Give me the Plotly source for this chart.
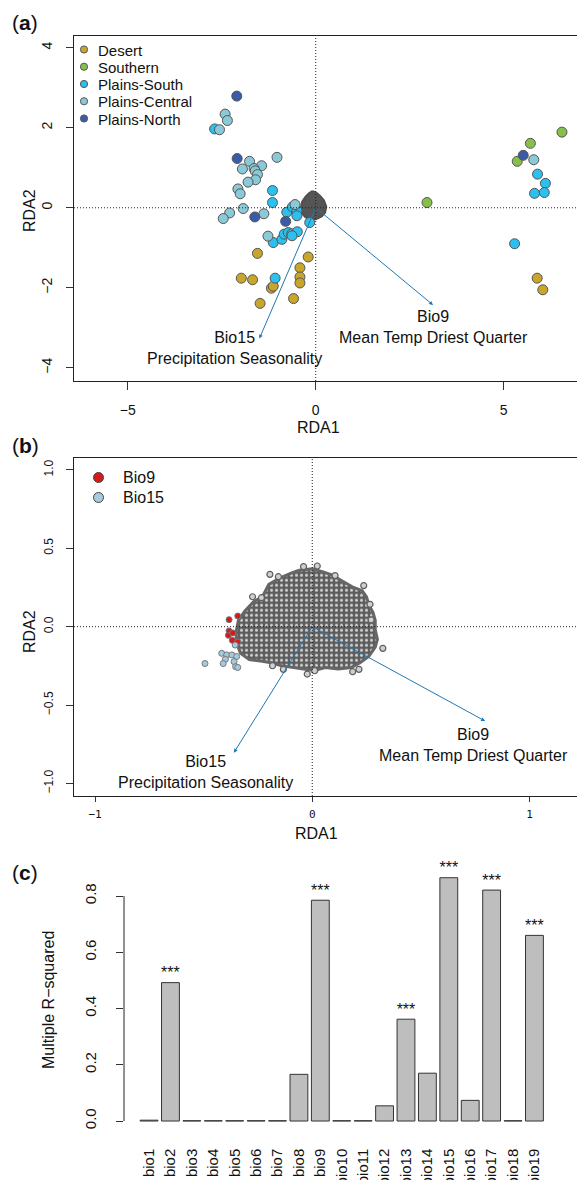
import plotly.graph_objects as go

W, H = 577, 1180
FONT = "Liberation Sans, Arial, sans-serif"

# ---------------- Panel (a): RDA individuals ----------------
desert_x = [-1.55, -0.20, -0.42, -0.42, -0.42, -1.98, -1.68, -1.18, -1.13, -1.48, -0.59, 5.89, 6.04]
desert_y = [-1.14, -1.23, -1.50, -1.73, -1.88, -1.76, -1.80, -2.01, -1.96, -2.39, -2.27, -1.76, -2.05]

southern_x = [6.55, 5.71, 5.36, 2.96]
southern_y = [1.89, 1.61, 1.16, 0.13]

psouth_x = [-2.69, -1.15, -1.15, -0.77, -0.62, -0.50, -0.50, -0.16, -1.13, -0.90, -0.84, -0.73,
            -0.64, -0.49, -0.63, -1.08, 5.90, 6.11, 5.82, 6.08, 5.29]
psouth_y = [1.97, 0.43, 0.13, -0.11, 0.02, -0.07, -0.20, -0.37, -0.87, -0.79, -0.66, -0.62,
            -0.65, -0.60, -0.70, -1.76, 0.84, 0.61, 0.36, 0.38, -0.90]

pcentral_x = [-2.41, -2.35, -2.56, -1.76, -1.03, -1.95, -1.44, -1.64, -1.61, -1.55, -1.60, -1.80,
              -2.07, -2.01, -1.93, -2.29, -2.46, -1.38, -1.27, -0.55, 5.80]
pcentral_y = [2.34, 2.18, 1.95, 1.16, 1.26, 0.97, 1.05, 0.98, 0.92, 0.83, 0.70, 0.64,
              0.47, 0.35, -0.02, -0.13, -0.27, -0.15, -0.71, 0.08, 1.20]

pnorth_x = [-2.10, -2.09, -1.62, -0.80, 5.52]
pnorth_y = [2.79, 1.23, -0.23, -0.34, 1.31]

# outline of the dense SNP blob in panel (a)
blob_a_x = [-0.09, 0.04, 0.13, 0.22, 0.28, 0.25, 0.16, 0.00, -0.13, -0.27, -0.37, -0.40, -0.36, -0.27, -0.18, -0.09]
blob_a_y = [0.42, 0.36, 0.28, 0.18, 0.03, -0.12, -0.22, -0.29, -0.29, -0.24, -0.14, -0.02, 0.15, 0.28, 0.36, 0.42]

# biplot arrows (panel a)
arrow_a = {"Bio9": (3.12, -2.43), "Bio15": (-1.50, -3.27)}
label_a = {"Bio9": (3.12, -2.98, "Bio9<br>Mean Temp Driest Quarter"),
           "Bio15": (-2.17, -3.51, "Bio15<br>Precipitation Seasonality")}

# ---------------- Panel (b): SNP loadings ----------------
cloud_b_x = [-0.06, 0.00, 0.05, 0.09, 0.14, 0.19, 0.23, 0.25, 0.26, 0.28, 0.29, 0.29, 0.30, 0.29, 0.26,
             0.22, 0.18, 0.12, 0.06, 0.01, -0.04, -0.09, -0.14, -0.19, -0.23, -0.29, -0.33, -0.35,
             -0.35, -0.34, -0.31, -0.27, -0.23, -0.20, -0.15, -0.10, -0.06]
cloud_b_y = [0.36, 0.37, 0.35, 0.33, 0.29, 0.25, 0.23, 0.19, 0.14, 0.09, 0.04, -0.02, -0.08, -0.13, -0.19,
             -0.23, -0.26, -0.27, -0.26, -0.28, -0.27, -0.26, -0.25, -0.23, -0.22, -0.21, -0.17, -0.10,
             -0.03, 0.04, 0.10, 0.16, 0.19, 0.27, 0.31, 0.34, 0.36]
edge_snp_x = [-0.195, -0.156, -0.040, 0.023, 0.105, 0.237, 0.266, 0.325, -0.023, 0.011, 0.186, 0.215,
              -0.183, -0.133, -0.275, -0.234, 0.271]
edge_snp_y = [0.334, 0.319, 0.383, 0.387, 0.326, 0.262, 0.143, -0.138, -0.302, -0.281, -0.287, -0.272,
              -0.249, -0.272, 0.191, 0.185, 0.043]

bio9_snp_x = [-0.383, -0.343, -0.383, -0.386, -0.366, -0.368, -0.343]
bio9_snp_y = [0.045, 0.068, -0.027, -0.055, -0.040, -0.087, -0.098]
bio15_snp_x = [-0.355, -0.417, -0.394, -0.370, -0.348, -0.400, -0.360, -0.410, -0.494, -0.353, -0.343]
bio15_snp_y = [-0.117, -0.170, -0.180, -0.180, -0.190, -0.208, -0.223, -0.235, -0.235, -0.255, -0.260]

arrow_b = {"Bio9": (0.796, -0.602), "Bio15": (-0.361, -0.804)}
label_b = {"Bio9": (0.743, -0.753, "Bio9<br>Mean Temp Driest Quarter"),
           "Bio15": (-0.492, -0.927, "Bio15<br>Precipitation Seasonality")}

# ---------------- Panel (c): R-squared per variable ----------------
bio_names = ["bio1", "bio2", "bio3", "bio4", "bio5", "bio6", "bio7", "bio8", "bio9", "bio10",
             "bio11", "bio12", "bio13", "bio14", "bio15", "bio16", "bio17", "bio18", "bio19"]
r_squared = [0.003, 0.492, 0.001, 0.001, 0.001, 0.001, 0.001, 0.166, 0.785, 0.001,
             0.001, 0.054, 0.362, 0.170, 0.865, 0.0735, 0.821, 0.001, 0.660]
signif = ["", "***", "", "", "", "", "", "", "***", "",
          "", "", "***", "", "***", "", "***", "", "***"]

# legends (drawn by hand, R-style)
legend_a_names = ["Desert", "Southern", "Plains-South", "Plains-Central", "Plains-North"]
legend_a_colors = ["#C9A52C", "#86C04A", "#2BC0EE", "#8ACAD8", "#3A5CA8"]
legend_b_names = ["Bio9", "Bio15"]
legend_b_colors = ["#D7191C", "#A6CBDF"]

# ---------------- build figure ----------------
fig = go.Figure()

OUT = "#555555"
groups = [
    ("Desert", desert_x, desert_y),
    ("Southern", southern_x, southern_y),
    ("Plains-South", psouth_x, psouth_y),
    ("Plains-Central", pcentral_x, pcentral_y),
    ("Plains-North", pnorth_x, pnorth_y),
]

# SNP blob (a)
fig.add_trace(go.Scatter(x=blob_a_x, y=blob_a_y, mode="lines", fill="toself",
                         fillcolor="#555555", line=dict(color="#505050", width=2),
                         showlegend=False, hoverinfo="skip", xaxis="x", yaxis="y"))
for (name, gx, gy), col in zip(groups, legend_a_colors):
    fig.add_trace(go.Scatter(x=gx, y=gy, mode="markers", name=name, showlegend=False,
                             marker=dict(size=10, color=col, line=dict(color=OUT, width=1)),
                             xaxis="x", yaxis="y"))

# SNP cloud (b)
fig.add_trace(go.Scatter(x=cloud_b_x, y=cloud_b_y, mode="lines", fill="toself",
                         fillcolor="#5e5e5e",
                         fillpattern=dict(shape=".", bgcolor="#5c5c5c", fgcolor="#d0d0d0",
                                          size=5, solidity=0.3),
                         line=dict(color="#666666", width=3),
                         showlegend=False, hoverinfo="skip", xaxis="x2", yaxis="y2"))
fig.add_trace(go.Scatter(x=edge_snp_x, y=edge_snp_y, mode="markers", showlegend=False,
                         marker=dict(size=6, color="#d0d0d0", line=dict(color="#5e5e5e", width=1.2)),
                         xaxis="x2", yaxis="y2"))
fig.add_trace(go.Scatter(x=bio9_snp_x, y=bio9_snp_y, mode="markers", name="Bio9", showlegend=False,
                         marker=dict(size=6, color=legend_b_colors[0], line=dict(color="#777777", width=1)),
                         xaxis="x2", yaxis="y2"))
fig.add_trace(go.Scatter(x=bio15_snp_x, y=bio15_snp_y, mode="markers", name="Bio15", showlegend=False,
                         marker=dict(size=6, color=legend_b_colors[1], line=dict(color="#777777", width=1)),
                         xaxis="x2", yaxis="y2"))

# bars (c)
fig.add_trace(go.Bar(x=bio_names, y=r_squared, marker=dict(color="#BEBEBE", line=dict(color="#333333", width=1)),
                     showlegend=False, xaxis="x3", yaxis="y3"))
star_x = [n for n, s in zip(bio_names, signif) if s]
star_y = [v + 0.03 for v, s in zip(r_squared, signif) if s]
star_t = [s for s in signif if s]
fig.add_trace(go.Scatter(x=star_x, y=star_y, mode="text", text=star_t, showlegend=False, cliponaxis=False,
                         textfont=dict(size=16, family=FONT, color="#111"), xaxis="x3", yaxis="y3"))

# ---------------- axes ----------------
def dom_x(a, b):
    return [a / W, b / W]

def dom_y(top, bottom):
    return [1 - bottom / H, 1 - top / H]

common = dict(showgrid=False, zeroline=False, ticks="outside", tickcolor="#333", tickwidth=1,
              linecolor="#222", linewidth=1, automargin=False)

# panel (c): 281.25 px per unit, zero at 1121 px
c_top_val = 0.95
c_top_px = 1121 - c_top_val * 281.25

fig.update_layout(
    template="none",
    width=W, height=H, margin=dict(l=0, r=0, t=0, b=0, pad=0), autosize=False,
    paper_bgcolor="white", plot_bgcolor="white",
    font=dict(family=FONT, color="#111"),
    showlegend=False,
    bargap=0.167,
    xaxis=dict(domain=dom_x(74, 577), range=[-6.43, 6.95], anchor="y", showline=True, mirror=True,
               tickvals=[-5, 0, 5], ticklen=8, tickfont=dict(size=14), ticklabelstandoff=8, **common),
    yaxis=dict(domain=dom_y(35.7, 381), range=[-4.33, 4.30], anchor="x", showline=True, mirror=False,
               tickvals=[-4, -2, 0, 2, 4], ticklen=7, tickangle=-90, tickfont=dict(size=14),
               ticklabelstandoff=8, **common),
    xaxis2=dict(domain=dom_x(74, 577), range=[-1.097, 1.219], anchor="y2", showline=True, mirror=True,
                tickvals=[-1, 0, 1], ticklen=5, tickfont=dict(size=11, family="DejaVu Sans Mono"),
                ticklabelstandoff=3, **common),
    yaxis2=dict(domain=dom_y(457.7, 796), range=[-1.08, 1.078], anchor="x2", showline=True, mirror=False,
                tickvals=[-1, -0.5, 0, 0.5, 1], tickformat=".1f", ticklen=7, tickangle=-90,
                tickfont=dict(size=12), ticklabelstandoff=8, **common),
    xaxis3=dict(domain=dom_x(124, 559.5), range=[-1.17, 19.17], anchor="y3", showline=False,
                showgrid=False, zeroline=False, ticks="", tickangle=-90, tickfont=dict(size=15),
                ticklabelstandoff=14, automargin=False),
    yaxis3=dict(domain=dom_y(c_top_px, 1130.7), range=[-0.0344, c_top_val], anchor="x3", showline=False,
                tickvals=[0, 0.2, 0.4, 0.6, 0.8], tickformat=".1f", ticklen=7, tickangle=-90,
                tickfont=dict(size=15), ticklabelstandoff=14,
                **{k: v for k, v in common.items() if k not in ("linecolor", "linewidth")}),
)

# dotted reference lines
shapes = []
for xa, ya in (("x", "y"), ("x2", "y2")):
    shapes.append(dict(type="line", xref=xa + " domain", yref=ya, x0=0, x1=1, y0=0, y1=0,
                       line=dict(color="#222", width=1, dash="1px,2px")))
    shapes.append(dict(type="line", xref=xa, yref=ya + " domain", x0=0, x1=0, y0=0, y1=1,
                       line=dict(color="#222", width=1, dash="1px,2px")))
# y axis line of panel (c) spans only the tick range
shapes.append(dict(type="line", xref="x3 domain", yref="y3", x0=0, x1=0, y0=0, y1=0.8,
                   line=dict(color="#222", width=1)))

ann = []

def paper_text(txt, px, py, size=16, angle=0, family=FONT, xanchor="center"):
    return dict(x=px / W, y=1 - py / H, xref="paper", yref="paper", text=txt, showarrow=False,
                textangle=angle, font=dict(size=size, family=family, color="#111"),
                xanchor=xanchor, yanchor="middle")

# hand-drawn legends
for i, (nm, col) in enumerate(zip(legend_a_names, legend_a_colors)):
    cy = 49.5 + i * 17.25
    shapes.append(dict(type="circle", xref="paper", yref="paper", xsizemode="pixel", ysizemode="pixel",
                       xanchor=84 / W, yanchor=1 - cy / H, x0=-3.6, x1=3.6, y0=-3.6, y1=3.6,
                       fillcolor=col, line=dict(color=OUT, width=1)))
    ann.append(paper_text(nm, 96, cy + 0.5, size=15, xanchor="left"))
for i, (nm, col) in enumerate(zip(legend_b_names, legend_b_colors)):
    cy = 477.5 + i * 20
    shapes.append(dict(type="circle", xref="paper", yref="paper", xsizemode="pixel", ysizemode="pixel",
                       xanchor=98.5 / W, yanchor=1 - cy / H, x0=-5, x1=5, y0=-5, y1=5,
                       fillcolor=col, line=dict(color="#444", width=1)))
    ann.append(paper_text(nm, 121, cy, size=16, xanchor="left"))

fig.update_layout(shapes=shapes)

ARROW = "#1F78B4"
for key, (tx, ty) in arrow_a.items():
    ann.append(dict(x=tx, y=ty, ax=0, ay=0, xref="x", yref="y", axref="x", ayref="y", text="",
                    showarrow=True, arrowhead=2, arrowsize=0.8, arrowwidth=1, arrowcolor=ARROW, standoff=0))
for key, (lx, ly, txt) in label_a.items():
    ann.append(dict(x=lx, y=ly, xref="x", yref="y", text=txt, showarrow=False,
                    font=dict(size=16, family=FONT, color="#111"), xanchor="center", yanchor="middle"))
for key, (tx, ty) in arrow_b.items():
    ann.append(dict(x=tx, y=ty, ax=0, ay=0, xref="x2", yref="y2", axref="x2", ayref="y2", text="",
                    showarrow=True, arrowhead=2, arrowsize=0.8, arrowwidth=1, arrowcolor=ARROW, standoff=0))
for key, (lx, ly, txt) in label_b.items():
    ann.append(dict(x=lx, y=ly, xref="x2", yref="y2", text=txt, showarrow=False,
                    font=dict(size=16, family=FONT, color="#111"), xanchor="center", yanchor="middle"))

ann += [
    paper_text("(<b>a</b>)", 25, 22, size=21),
    paper_text("(<b>b</b>)", 25, 445, size=21),
    paper_text("(<b>c</b>)", 25, 872, size=21),
    paper_text("RDA1", 318, 427),
    paper_text("RDA2", 29, 211, angle=-90),
    paper_text("RDA2", 29, 632, angle=-90),
    paper_text("RDA1", 316, 833),
    paper_text("Multiple R\u2212squared", 48, 1000, angle=-90),
]
fig.update_layout(annotations=ann)

fig.write_html("out.html", config={"displayModeBar": False},
               post_script="document.body.style.margin='0';document.body.style.overflow='hidden';")
